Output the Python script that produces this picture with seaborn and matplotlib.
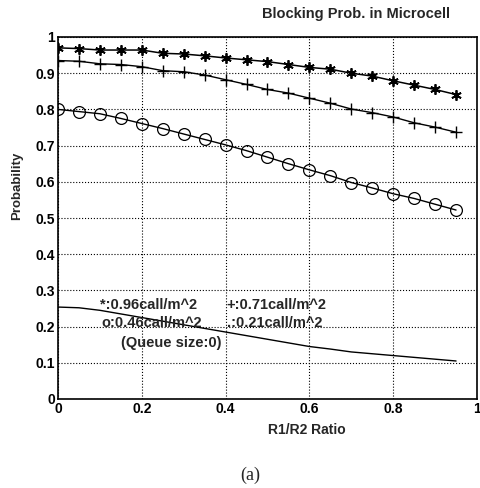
import matplotlib
matplotlib.use("Agg")
import matplotlib.pyplot as plt
import seaborn as sns
import pandas as pd

ratio = [0.00, 0.05, 0.10, 0.15, 0.20, 0.25, 0.30, 0.35, 0.40, 0.45,
         0.50, 0.55, 0.60, 0.65, 0.70, 0.75, 0.80, 0.85, 0.90, 0.95]
p_096 = [0.970, 0.968, 0.964, 0.964, 0.964, 0.955, 0.953, 0.948, 0.942, 0.937,
         0.932, 0.924, 0.916, 0.911, 0.900, 0.892, 0.879, 0.867, 0.855, 0.841]
p_071 = [0.935, 0.933, 0.926, 0.924, 0.918, 0.907, 0.904, 0.895, 0.882, 0.869,
         0.855, 0.845, 0.831, 0.817, 0.801, 0.791, 0.779, 0.763, 0.751, 0.737]
p_046 = [0.800, 0.794, 0.788, 0.775, 0.761, 0.747, 0.732, 0.717, 0.702, 0.686,
         0.668, 0.650, 0.633, 0.617, 0.598, 0.583, 0.567, 0.554, 0.538, 0.522]
p_021 = [0.254, 0.252, 0.245, 0.235, 0.225, 0.215, 0.205, 0.195, 0.185, 0.175,
         0.165, 0.155, 0.145, 0.138, 0.130, 0.125, 0.120, 0.115, 0.110, 0.105]

xticks = [0, 0.2, 0.4, 0.6, 0.8, 1]
xticklabels = ["0", "0.2", "0.4", "0.6", "0.8", "1"]
yticks = [0, 0.1, 0.2, 0.3, 0.4, 0.5, 0.6, 0.7, 0.8, 0.9, 1]
yticklabels = ["0", "0.1", "0.2", "0.3", "0.4", "0.5", "0.6", "0.7", "0.8", "0.9", "1"]
legend_lines = ["*:0.96call/m^2", "+:0.71call/m^2", "o:0.46call/m^2", ".:0.21call/m^2"]

sns.set_theme(style="white")
plt.rcParams["font.family"] = ["Liberation Sans", "DejaVu Sans"]

fig = plt.figure(figsize=(4.81, 4.88), dpi=100)
W, H = 481, 488
AX_L, AX_R, AX_T, AX_B = 58, 477, 37, 399
ax = fig.add_axes([AX_L / W, (H - AX_B) / H, (AX_R - AX_L) / W, (AX_B - AX_T) / H])

df = pd.DataFrame({"ratio": ratio, "a": p_096, "b": p_071, "c": p_046, "d": p_021})

sns.lineplot(data=df, x="ratio", y="a", ax=ax, color="black", lw=1.1,
             marker=(6, 2, 0), markersize=7.5, markeredgewidth=1.3, markeredgecolor="black")
sns.lineplot(data=df, x="ratio", y="b", ax=ax, color="black", lw=1.0,
             marker="+", markersize=8, markeredgewidth=1.0, markeredgecolor="black")
sns.lineplot(data=df, x="ratio", y="c", ax=ax, color="black", lw=1.0,
             marker="o", markersize=8.5, markerfacecolor="none", markeredgewidth=0.9,
             markeredgecolor="black")
sns.lineplot(data=df, x="ratio", y="d", ax=ax, color="black", lw=1.0)

ax.set_xlim(0, 1)
ax.set_ylim(0, 1)
ax.set_xticks(xticks)
ax.set_xticklabels(xticklabels, fontsize=10, fontweight="bold")
ax.set_yticks(yticks)
ax.set_yticklabels(yticklabels, fontsize=10, fontweight="bold")
ax.tick_params(direction="in", length=4, width=0.8, colors="black", pad=2)
ax.grid(True, linestyle=":", color="black", linewidth=0.8)
for s in ax.spines.values():
    s.set_color("black")
    s.set_linewidth(1.2)

axw = AX_R - AX_L
axh = AX_B - AX_T
ax.set_xlabel("R1/R2 Ratio", fontsize=10, fontweight="bold")
ax.xaxis.set_label_coords((307 - AX_L) / axw, -(430 - AX_B) / axh)
ax.xaxis.label.set_va("center")
ax.set_ylabel("Probability", fontsize=9.5, fontweight="bold")
ax.yaxis.set_label_coords(-(AX_L - 17) / axw, (AX_B - 186) / axh)
ax.yaxis.label.set_va("center")

fig.text(356 / W, 1 - 14 / H, "Blocking Prob. in Microcell", ha="center", va="center",
         fontsize=10.5, fontweight="bold")

def px(x):
    return (x - AX_L) / axw

def py(y):
    return (AX_B - y) / axh

kw = dict(fontsize=10.5, fontweight="bold", ha="center", va="center")
ax.text(px(149), py(305), legend_lines[0], **kw)
ax.text(px(276), py(305), legend_lines[1], **kw)
ax.text(px(151.5), py(323), legend_lines[2], **kw)
ax.text(px(274.5), py(323), legend_lines[3], **kw)
ax.text(px(171), py(343), "(Queue size:0)", **kw)

fig.text(250 / W, 1 - 475 / H, "(a)", ha="center", va="center", fontsize=13,
         family=["Liberation Serif", "DejaVu Serif"])

fig.savefig("out.png", dpi=100)
